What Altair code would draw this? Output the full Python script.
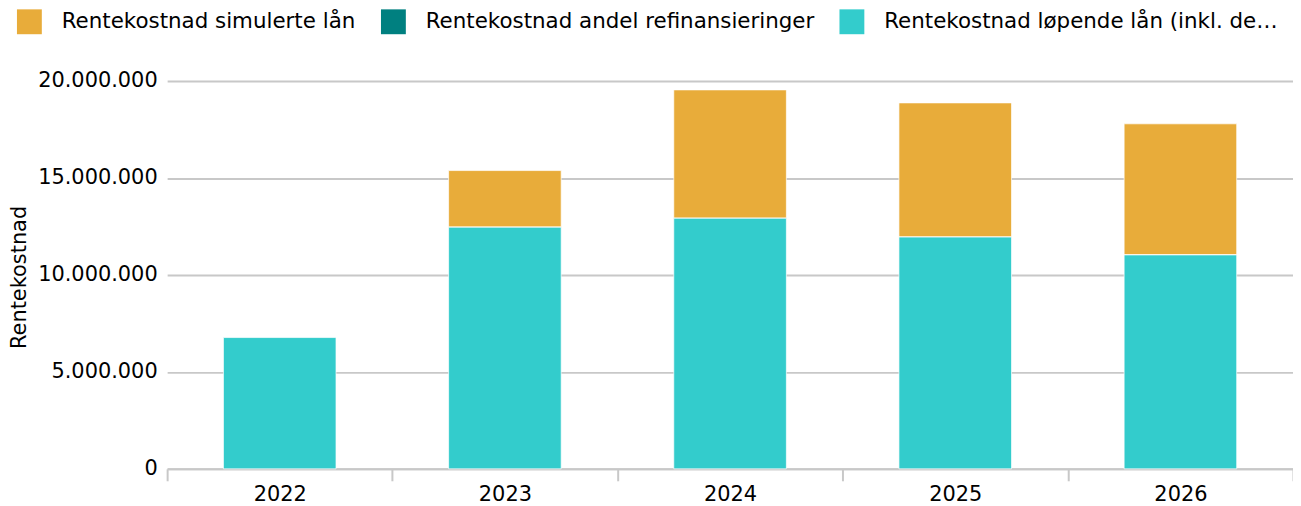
import altair as alt
import pandas as pd

years = ["2022", "2023", "2024", "2025", "2026"]
series = [
    "Rentekostnad simulerte lån",
    "Rentekostnad andel refinansieringer",
    "Rentekostnad løpende lån (inkl. derivater)",
]
colors = ["#e8ac3a", "#008080", "#33cccc"]
simulerte = [0, 2920000, 6620000, 6920000, 6760000]
refinans = [0, 0, 0, 0, 0]
lopende = [6770000, 12460000, 12920000, 11950000, 11030000]
stack_order = [2, 1, 0]

rows = []
for vals, name, o in zip([simulerte, refinans, lopende], series, stack_order):
    for y, v in zip(years, vals):
        rows.append({"year": y, "serie": name, "value": v, "ord": o})
df = pd.DataFrame(rows)

FONT = "DejaVu Sans"

chart = alt.Chart(df).mark_bar(
    width=alt.RelativeBandSize(0.5), stroke="white", strokeWidth=1, strokeOpacity=0.7
).encode(
    x=alt.X("year:N", title=None,
            scale=alt.Scale(paddingInner=0, paddingOuter=0),
            axis=alt.Axis(labelAngle=0, tickBand="extent", tickSize=12, tickWidth=2,
                          tickColor="#c8c8c8", domainColor="#c8c8c8", domainWidth=2,
                          labelFontSize=21, labelFont=FONT, labelColor="#000000",
                          labelPadding=3, grid=False)),
    y=alt.Y("value:Q", title="Rentekostnad", stack="zero",
            scale=alt.Scale(domain=[0, 20000000], nice=False),
            axis=alt.Axis(values=[0, 5000000, 10000000, 15000000, 20000000],
                          labelExpr="replace(format(datum.value, ','), regexp(',', 'g'), '.')",
                          tickSize=0, domain=False, labelPadding=10,
                          labelFontSize=21, labelFont=FONT, labelColor="#000000",
                          gridColor="#c8c8c8", gridWidth=2,
                          titleFontSize=21, titleFont=FONT, titleFontWeight="normal",
                          titleColor="#000000", titleAngle=-90, titleX=-148, titleY=197,
                          titleAlign="center", titleBaseline="middle")),
    color=alt.Color("serie:N", scale=alt.Scale(domain=series, range=colors),
                    legend=alt.Legend(title=None, orient="none", direction="horizontal",
                                      legendX=-151, legendY=-72,
                                      symbolType="square", symbolSize=625,
                                      symbolStrokeWidth=0, labelFontSize=21.5,
                                      labelFont=FONT, labelColor="#000000",
                                      labelOffset=20, columnPadding=25,
                                      labelLimit=396)),
    order=alt.Order("ord:Q", sort="ascending"),
).properties(
    width=1132, height=390,
    autosize=alt.AutoSizeParams(type="none"),
    padding={"left": 160, "top": 72, "right": 0, "bottom": 38},
).configure_view(stroke=None)

chart.save("out.html", embed_options={"renderer": "svg", "actions": False})
